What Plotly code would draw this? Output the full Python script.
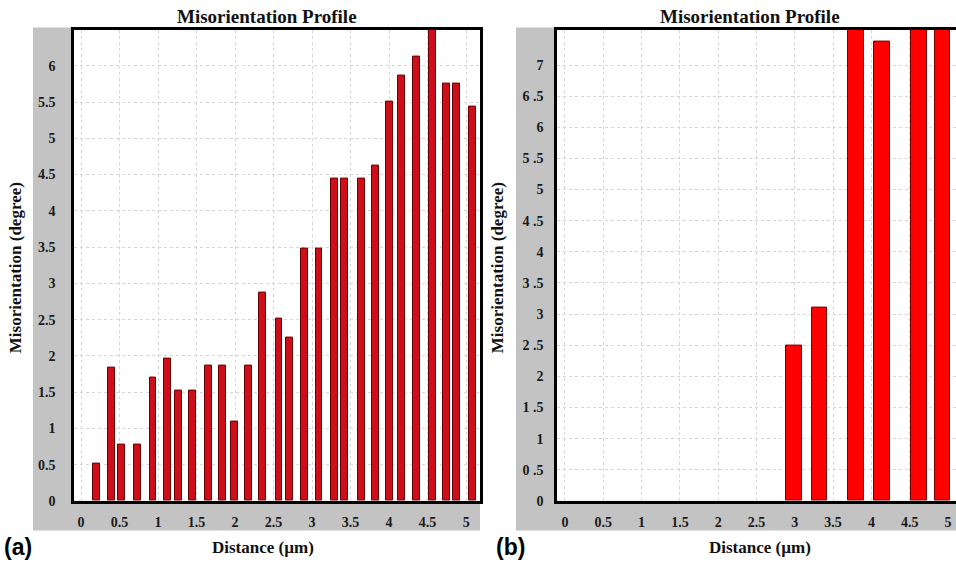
import plotly.graph_objects as go

# ---- data ----
dist_a = [0.195, 0.40, 0.53, 0.73, 0.935, 1.12, 1.26, 1.45, 1.65, 1.84, 1.99, 2.17,
          2.36, 2.57, 2.71, 2.90, 3.09, 3.29, 3.42, 3.64, 3.82, 4.01, 4.16, 4.35,
          4.56, 4.75, 4.88, 5.08]
mis_a = [0.51, 1.84, 0.77, 0.77, 1.70, 1.96, 1.52, 1.52, 1.86, 1.86, 1.09, 1.87,
         2.87, 2.52, 2.25, 3.48, 3.48, 4.44, 4.44, 4.44, 4.63, 5.51, 5.87, 6.13,
         6.6, 5.75, 5.75, 5.44]

dist_b = [2.99, 3.32, 3.80, 4.14, 4.62, 4.93]
mis_b = [2.49, 3.11, 7.7, 7.37, 7.7, 7.7]

ytick_a = [0, 0.5, 1, 1.5, 2, 2.5, 3, 3.5, 4, 4.5, 5, 5.5, 6]
ytick_a_text = ["0", "0.5", "1", "1.5", "2", "2.5", "3", "3.5", "4", "4.5", "5", "5.5", "6"]
ytick_b = [0, 0.5, 1, 1.5, 2, 2.5, 3, 3.5, 4, 4.5, 5, 5.5, 6, 6.5, 7]
ytick_b_text = ["0", "0 .5", "1", "1 .5", "2", "2 .5", "3", "3 .5", "4", "4 .5",
                "5", "5 .5", "6", "6 .5", "7"]
xtick = [0, 0.5, 1, 1.5, 2, 2.5, 3, 3.5, 4, 4.5, 5]
xtick_text = ["0", "0.5", "1", "1.5", "2", "2.5", "3", "3.5", "4", "4.5", "5"]

W, H = 956, 569
def px(x):
    return x / W
def py(y):
    return (H - y) / H
def bold(lst):
    return ["<b>%s</b>" % s for s in lst]

serif = "Liberation Serif"
fig = go.Figure()
fig.add_trace(go.Bar(x=dist_a, y=mis_a, width=0.09, xaxis="x", yaxis="y",
                     marker=dict(color="#cc0f1a", line=dict(color="#6a0000", width=1)),
                     showlegend=False))
fig.add_trace(go.Bar(x=dist_b, y=mis_b, width=0.2, xaxis="x2", yaxis="y2",
                     marker=dict(color="#ff0000", line=dict(color="#7a0000", width=1)),
                     showlegend=False))

tickfont = dict(family=serif, size=14, color="#1a1a1a")
grid = dict(showgrid=True, gridcolor="#d6d6d6", griddash="dot", gridwidth=1, zeroline=False)

A_L, A_R, B_L = 74, 480, 557
TOP, BOT = 30, 508

fig.update_layout(
    width=W, height=H, margin=dict(l=0, r=0, t=0, b=0),
    paper_bgcolor="white", plot_bgcolor="rgba(0,0,0,0)", bargap=0,
    xaxis=dict(domain=[px(A_L), px(A_R)], range=[-0.091, 5.18], anchor="y",
               tickvals=xtick, ticktext=bold(xtick_text), tickfont=tickfont, ticks="",
               ticklabelstandoff=7, showline=True, linecolor="black", linewidth=2.5,
               mirror=True, **grid),
    yaxis=dict(domain=[py(BOT), py(TOP)], range=[0, 6.5], anchor="x",
               tickvals=ytick_a, ticktext=bold(ytick_a_text), tickfont=tickfont, ticks="",
               ticklabelstandoff=13, showline=True, linecolor="black", linewidth=2.5,
               mirror=True, **grid),
    xaxis2=dict(domain=[px(B_L), 1.0], range=[-0.104, 5.104], anchor="y2",
                tickvals=xtick, ticktext=bold(xtick_text), tickfont=tickfont, ticks="",
                ticklabelstandoff=7, showline=True, linecolor="black", linewidth=2.5,
                mirror=True, **grid),
    yaxis2=dict(domain=[py(BOT), py(TOP)], range=[0, 7.57], anchor="x2",
                tickvals=ytick_b, ticktext=bold(ytick_b_text), tickfont=tickfont, ticks="",
                ticklabelstandoff=8, showline=True, linecolor="black", linewidth=2.5,
                mirror=False, **grid),
)

shapes = []
# grey frames
for x0, x1 in [(33, 480), (516, 956)]:
    shapes.append(dict(type="rect", xref="paper", yref="paper", x0=px(x0), x1=px(x1),
                       y0=py(538), y1=py(28), fillcolor="#c3c3c3", line=dict(width=0),
                       layer="below"))
# white plotting areas
for x0, x1 in [(A_L, A_R), (B_L, 956)]:
    shapes.append(dict(type="rect", xref="paper", yref="paper", x0=px(x0), x1=px(x1),
                       y0=py(BOT), y1=py(TOP), fillcolor="white", line=dict(width=0),
                       layer="below"))
fig.update_layout(shapes=shapes)

ann = []
title_font = dict(family=serif, size=19, color="#111111", weight="bold")
lab_font = dict(family=serif, size=17, color="#111111", weight="bold")
for xc in [267, 750]:
    ann.append(dict(text="Misorientation Profile", x=px(xc), y=py(17), xref="paper",
                    yref="paper", showarrow=False, font=title_font,
                    xanchor="center", yanchor="middle"))
for xc in [263, 760]:
    ann.append(dict(text="Distance (µm)", x=px(xc), y=py(555), xref="paper",
                    yref="paper", showarrow=False, font=lab_font,
                    xanchor="center", yanchor="middle"))
for xc in [15, 497]:
    ann.append(dict(text="Misorientation (degree)", x=px(xc), y=py(272), xref="paper",
                    yref="paper", showarrow=False, font=lab_font, textangle=-90,
                    xanchor="center", yanchor="middle"))
for xl, t in [(2, "(a)"), (494, "(b)")]:
    ann.append(dict(text=t, x=px(xl), y=py(555), xref="paper", yref="paper",
                    showarrow=False, xanchor="left", yanchor="middle",
                    font=dict(family="Liberation Sans", size=23, color="black",
                              weight="bold")))
fig.update_layout(annotations=ann)

fig.write_html("out.html")
